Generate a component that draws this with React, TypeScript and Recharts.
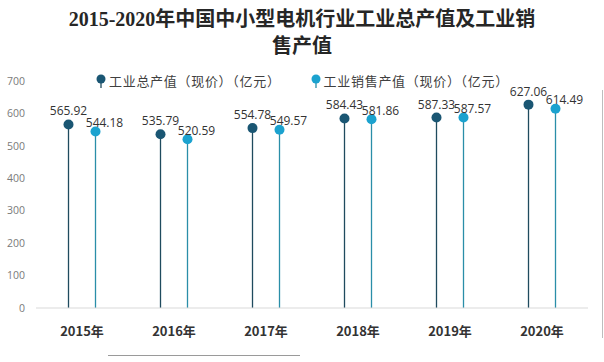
import { BarChart, Bar, XAxis, YAxis, LabelList } from 'recharts';

const years = ['2015年', '2016年', '2017年', '2018年', '2019年', '2020年'];
const grossOutput = [565.92, 535.79, 554.78, 584.43, 587.33, 627.06];
const salesOutput = [544.18, 520.59, 549.57, 581.86, 587.57, 614.49];
const yTicks = [0, 100, 200, 300, 400, 500, 600, 700];

const data = years.map((year, i) => ({ year, gross: grossOutput[i], sales: salesOutput[i] }));

const DARK = '#1a5673';
const DARK_LINE = '#1f4b5e';
const CYAN = '#1ba2cf';
const CYAN_LINE = '#2a8ea8';

const lollipop = (dot: string, line: string) => (p: any) => {
  const cx = p.x + p.width / 2;
  return (
    <g>
      <line x1={cx} x2={cx} y1={p.y} y2={p.y + p.height} stroke={line} strokeWidth={1.3} />
      <circle cx={cx} cy={p.y} r={5} fill={dot} />
    </g>
  );
};

const valueLabel = (dx: number, dy: number) => (p: any) => (
  <text
    x={p.x + p.width / 2 + dx}
    y={p.y - dy}
    textAnchor="middle"
    fontSize={12}
    fontFamily="'Open Sans', sans-serif"
    fill="#333"
  >
    {Number(p.value).toFixed(2)}
  </text>
);

const legendItems = [
  { label: '工业总产值（现价）（亿元）', color: DARK, line: DARK_LINE },
  { label: '工业销售产值（现价）（亿元）', color: CYAN, line: CYAN_LINE },
];

function PinLegend() {
  return (
    <div
      style={{
        position: 'absolute',
        top: 72,
        left: 96,
        display: 'flex',
        gap: 30,
        fontFamily: "'Noto Sans CJK SC', sans-serif",
        fontSize: 13,
        letterSpacing: 0.7,
        lineHeight: '18px',
        color: '#404040',
      }}
    >
      {legendItems.map((it) => (
        <div key={it.label} style={{ display: 'flex', alignItems: 'center' }}>
          <svg width={10} height={16} style={{ marginRight: 3 }}>
            <line x1={5} x2={5} y1={5} y2={15} stroke={it.line} strokeWidth={1.3} />
            <circle cx={5} cy={6} r={4.5} fill={it.color} />
          </svg>
          <span>{it.label}</span>
        </div>
      ))}
    </div>
  );
}

export default function App() {
  return (
    <div style={{ position: 'fixed', left: 0, top: 0, width: 604, height: 362, background: '#fff' }}>
      <div
        style={{
          position: 'absolute',
          top: 6,
          left: 0,
          width: 604,
          textAlign: 'center',
          fontFamily: "'Liberation Serif', 'Noto Sans CJK SC', serif",
          fontWeight: 'bold',
          fontSize: 20,
          lineHeight: '27px',
          color: '#262626',
        }}
      >
        <div>2015-2020年中国中小型电机行业工业总产值及工业销</div>
        <div>售产值</div>
      </div>
      <BarChart
        width={604}
        height={362}
        data={data}
        margin={{ top: 81, right: 16, left: 0, bottom: 24 }}
        barSize={27}
        barGap={0}
      >
        <XAxis
          dataKey="year"
          height={30}
          axisLine={{ stroke: '#d9d9d9' }}
          tickLine={false}
          tickSize={0}
          tickMargin={19}
          tick={{ fontSize: 13, fontWeight: 'bold', fill: '#333', fontFamily: "'Noto Sans CJK SC', sans-serif" }}
        />
        <YAxis
          width={36}
          domain={[0, 700]}
          ticks={yTicks}
          axisLine={false}
          tickLine={false}
          tickSize={0}
          tickMargin={11}
          tick={{ fontSize: 10.5, fill: '#7a7a7a', fontFamily: "'Open Sans', sans-serif" }}
        />
        <Bar dataKey="gross" isAnimationActive={false} shape={lollipop(DARK, DARK_LINE)}>
          <LabelList dataKey="gross" content={valueLabel(0, 9)} />
        </Bar>
        <Bar dataKey="sales" isAnimationActive={false} shape={lollipop(CYAN, CYAN_LINE)}>
          <LabelList dataKey="sales" content={valueLabel(9, 4.5)} />
        </Bar>
      </BarChart>
      <PinLegend />
      <div style={{ position: 'absolute', left: 108, top: 355, width: 192, height: 1, background: '#9a9a9a' }} />
      <div style={{ position: 'absolute', left: 602, top: 90, width: 1, height: 248, background: '#bdbdbd' }} />
    </div>
  );
}
